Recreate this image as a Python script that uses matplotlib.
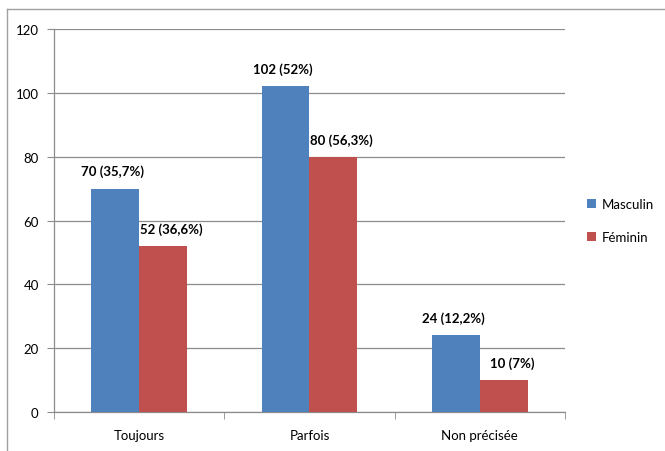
import matplotlib.pyplot as plt
import numpy as np
from matplotlib.lines import Line2D

categories = ["Toujours", "Parfois", "Non précisée"]
masculin = [70, 102, 24]
feminin = [52, 80, 10]
labels_masculin = ["70 (35,7%)", "102 (52%)", "24 (12,2%)"]
labels_feminin = ["52 (36,6%)", "80 (56,3%)", "10 (7%)"]

BLUE = "#4F81BD"
RED = "#C0504D"
GRID = "#8c8c8c"

plt.rcParams["font.family"] = ["Lato", "DejaVu Sans"]


def main():
    fig = plt.figure(figsize=(6.65, 4.52), dpi=100)
    ax = fig.add_axes([0.0812, 0.0863, 0.7684, 0.8473])

    x = np.arange(len(categories))
    w = 0.28
    ax.bar(x - w / 2, masculin, w, color=BLUE, label="Masculin", zorder=3)
    ax.bar(x + w / 2, feminin, w, color=RED, label="Féminin", zorder=3)

    for i in range(len(categories)):
        ax.annotate(labels_masculin[i], (x[i] - w / 2, masculin[i]),
                    xytext=(-2, 8), textcoords="offset points",
                    ha="center", va="bottom", fontsize=9.5, fontweight="bold")
        ax.annotate(labels_feminin[i], (x[i] + w / 2, feminin[i]),
                    xytext=(6, 8), textcoords="offset points",
                    ha="center", va="bottom", fontsize=9.5, fontweight="bold")

    ax.set_xlim(-0.5, len(categories) - 0.5)
    ax.set_ylim(0, 120)
    ax.set_yticks(range(0, 121, 20))
    ax.yaxis.grid(True, color=GRID, linewidth=0.9, zorder=0)
    ax.set_axisbelow(True)

    # category ticks sit on the group boundaries
    ax.set_xticks(x)
    ax.set_xticklabels(categories, fontsize=9.5)
    ax.tick_params(axis="x", length=0, pad=12)
    ax.set_xticks(np.arange(-0.5, len(categories)), minor=True)
    ax.tick_params(axis="x", which="minor", length=5, color=GRID)
    ax.tick_params(axis="y", length=5, color=GRID, labelsize=9.5, pad=6)

    for side in ["top", "right"]:
        ax.spines[side].set_visible(False)
    for side in ["left", "bottom"]:
        ax.spines[side].set_color(GRID)
        ax.spines[side].set_linewidth(0.9)

    ax.legend(loc="center left", bbox_to_anchor=(1.02, 0.5), frameon=False,
              fontsize=9.5, handlelength=0.7, handleheight=0.7,
              handletextpad=0.4, labelspacing=1.6)

    # outer chart frame
    fig.add_artist(Line2D([7 / 665, 7 / 665], [0, 1 - 10 / 452],
                          color="#a0a0a0", linewidth=1))
    fig.add_artist(Line2D([7 / 665, 1], [1 - 10 / 452, 1 - 10 / 452],
                          color="#a0a0a0", linewidth=1))

    fig.savefig("out.png", dpi=100)


if __name__ == "__main__":
    main()
